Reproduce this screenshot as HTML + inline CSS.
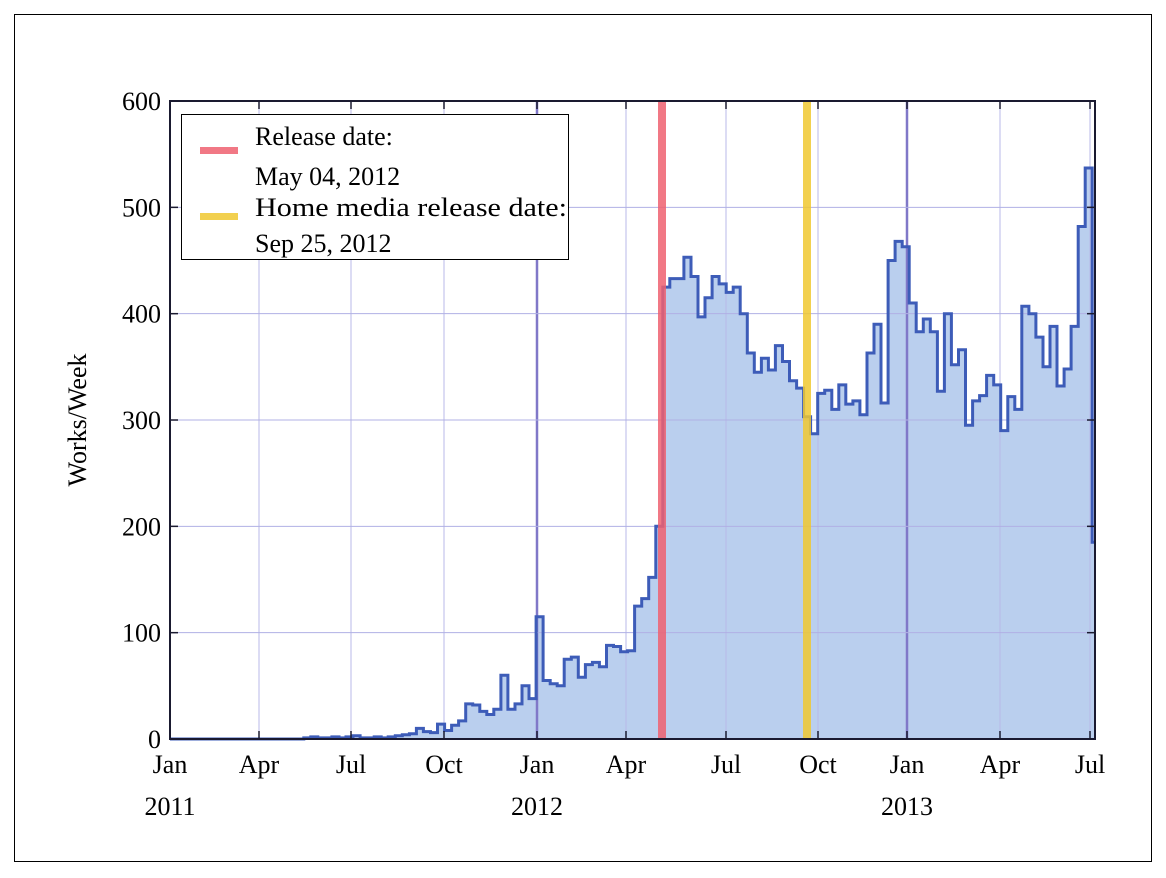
<!DOCTYPE html><html><head><style>body{margin:0;background:#fff}svg{display:block;font-family:"Liberation Serif",serif}</style></head><body>
<svg id="s" width="1166" height="878" xmlns="http://www.w3.org/2000/svg">
<rect x="14.5" y="14.5" width="1137" height="847" fill="none" stroke="#000" stroke-width="1"/>
<path id="fill" fill="#bacfee" stroke="none"/>
<g id="grid" stroke="#b0b0e4" stroke-width="1"></g>
<path id="line" fill="none" stroke="#3d5cb8" stroke-width="3"/>
<rect x="658" y="101" width="8" height="638" fill="#ee6070" opacity="0.85"/>
<rect x="803" y="101" width="8" height="638" fill="#f0c830" opacity="0.85"/>
<rect x="170" y="101" width="925" height="638" fill="none" stroke="#1a1a30" stroke-width="2"/>
<g id="ticks" stroke="#1a1a30" stroke-width="1.5"></g>
<g font-size="26" fill="#000" id="lab"></g>
<text x="86" y="420" font-size="26" transform="rotate(-90 86 420)" text-anchor="middle">Works/Week</text>
<rect x="181.5" y="114.5" width="387" height="145" fill="#fff" stroke="#000" stroke-width="1"/>
<rect x="200" y="147" width="38" height="7" fill="#ee6070" opacity="0.85"/>
<rect x="200" y="213" width="38" height="7" fill="#f0c830" opacity="0.85"/>
<text x="255" y="145" font-size="26">Release date:</text>
<text x="255" y="185" font-size="26">May 04, 2012</text>
<text x="255" y="216" font-size="26" textLength="312" lengthAdjust="spacingAndGlyphs">Home media release date:</text>
<text x="255" y="252" font-size="26">Sep 25, 2012</text>
</svg>
<script>
var ns="http://www.w3.org/2000/svg";
function el(p,t,a,txt){var e=document.createElementNS(ns,t);for(var k in a)e.setAttribute(k,a[k]);if(txt)e.textContent=txt;document.getElementById(p).appendChild(e);}
var mx=[[170,"Jan"],[259,"Apr"],[351,"Jul"],[444,"Oct"],[537,"Jan"],[626,"Apr"],[726,"Jul"],[818,"Oct"],[907,"Jan"],[1000,"Apr"],[1090,"Jul"]];
mx.forEach(function(m,i){var dk=(i==4||i==8);if(i>0)el("grid","line",{x1:m[0],x2:m[0],y1:101,y2:739,stroke:dk?"#8078c8":"#b8b8e8","stroke-width":dk?2.5:1});
el("ticks","line",{x1:m[0],x2:m[0],y1:739,y2:731});el("ticks","line",{x1:m[0],x2:m[0],y1:101,y2:109});
el("lab","text",{x:m[0],y:773,"text-anchor":"middle"},m[1]);});
[[170,"2011"],[537,"2012"],[907,"2013"]].forEach(function(m){el("lab","text",{x:m[0],y:815,"text-anchor":"middle"},m[1]);});
for(var v=0;v<=600;v+=100){var y=739-v*1.0633;if(v>0&&v<600)el("grid","line",{x1:170,x2:1095,y1:y,y2:y});
el("ticks","line",{x1:170,x2:178,y1:y,y2:y});el("ticks","line",{x1:1095,x2:1087,y1:y,y2:y});
el("lab","text",{x:161,y:y+9,"text-anchor":"end"},String(v));}
var d=[];for(var i=0;i<19;i++)d.push(0);
d=d.concat([1,2,1,1,2,1,2,3,1,1,2,1, 2,3,4,5,10,7,6,14, 8,13,17,33,32,26,23,28,60,28,33,50,38, 115,
55,52,50,75,77,58,70,72,68,88,87,82,83,125,132,152,200,
425,433,433,453,435,397,415,435,428,420,425,400,363,345,358,347,370,355,337,330,303,287,325,328,310,333,315,318,305,363,390,316,450,468,463,410,383,395,383,327,400,352,366,295,318,323,342,333,290,322,310,407,400,378,350,388,332,348,388,482,537,185]);
var w=7.04,p="",f="M170,739";
d.forEach(function(v,k){var x0=170+k*w,x1=Math.min(1095,x0+w),y=739-v*1.0633;p+=(k?"L":"M")+x0.toFixed(1)+","+y.toFixed(1)+"L"+x1.toFixed(1)+","+y.toFixed(1);f+="L"+x0.toFixed(1)+","+y.toFixed(1)+"L"+x1.toFixed(1)+","+y.toFixed(1);});
var xe=Math.min(1095,170+d.length*w);f+="L"+xe+",739Z";
document.getElementById("line").setAttribute("d",p);document.getElementById("fill").setAttribute("d",f);
</script></body></html>
